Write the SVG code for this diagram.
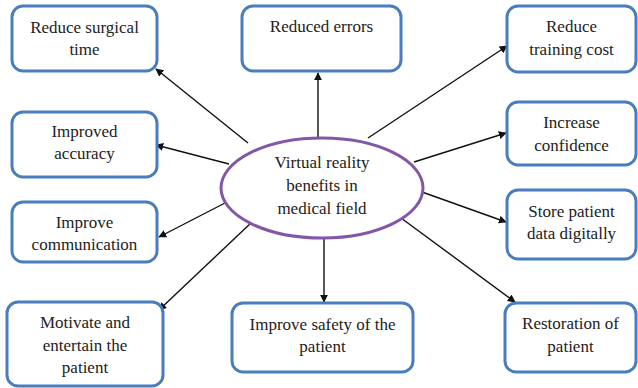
<svg xmlns="http://www.w3.org/2000/svg" width="638" height="388" viewBox="0 0 638 388">
  <style>
    .box { fill: #ffffff; stroke: #4a7dbd; stroke-width: 3; }
    .hub { fill: #ffffff; stroke: #8357a8; stroke-width: 3; }
    .lbl { font-family: 'Liberation Serif', 'Times New Roman', serif; font-size: 17px; fill: #222222; text-anchor: middle; }
    .link { stroke: #111111; stroke-width: 1.4; fill: none; marker-end: url(#arrow); }
  </style>
  <defs>
    <marker id="arrow" viewBox="0 0 10 10" refX="9" refY="5" markerWidth="8" markerHeight="8" markerUnits="userSpaceOnUse" orient="auto">
      <path d="M0,0 L10,5 L0,10 z" fill="#111111"/>
    </marker>
  </defs>
  <rect width="638" height="388" fill="#ffffff"/>

  <!-- connectors from the central ellipse to each benefit -->
  <g id="connectors">
    <line class="link" x1="248" y1="143" x2="156" y2="69"/>
    <line class="link" x1="229" y1="164" x2="156" y2="145"/>
    <line class="link" x1="318" y1="138" x2="318" y2="73"/>
    <line class="link" x1="368" y1="138" x2="507" y2="46"/>
    <line class="link" x1="414" y1="162" x2="506" y2="133"/>
    <line class="link" x1="422" y1="192" x2="506" y2="222"/>
    <line class="link" x1="401" y1="218" x2="515" y2="302"/>
    <line class="link" x1="324" y1="238" x2="324" y2="302"/>
    <line class="link" x1="252" y1="222" x2="159" y2="310"/>
    <line class="link" x1="225" y1="203" x2="159" y2="237"/>
  </g>

  <g id="hub">
    <ellipse class="hub" cx="322" cy="188" rx="101" ry="50"/>
    <text class="lbl" x="322" y="168">Virtual reality</text>
    <text class="lbl" x="322" y="191">benefits in</text>
    <text class="lbl" x="322" y="214">medical field</text>
  </g>

  <g id="reduce-surgical-time">
    <rect class="box" x="12" y="6" width="145" height="65" rx="11"/>
    <text class="lbl" x="84.5" y="33">Reduce surgical</text>
    <text class="lbl" x="84.5" y="55">time</text>
  </g>

  <g id="improved-accuracy">
    <rect class="box" x="12" y="112" width="145" height="65" rx="11"/>
    <text class="lbl" x="84.5" y="137">Improved</text>
    <text class="lbl" x="84.5" y="159">accuracy</text>
  </g>

  <g id="improve-communication">
    <rect class="box" x="12" y="202" width="145" height="60" rx="11"/>
    <text class="lbl" x="84.5" y="228">Improve</text>
    <text class="lbl" x="84.5" y="250">communication</text>
  </g>

  <g id="motivate-entertain">
    <rect class="box" x="7" y="302" width="156" height="84" rx="11"/>
    <text class="lbl" x="85" y="328">Motivate and</text>
    <text class="lbl" x="85" y="351">entertain the</text>
    <text class="lbl" x="85" y="373">patient</text>
  </g>

  <g id="reduced-errors">
    <rect class="box" x="242" y="6" width="159" height="65" rx="11"/>
    <text class="lbl" x="321.5" y="32">Reduced errors</text>
  </g>

  <g id="improve-safety">
    <rect class="box" x="232" y="303" width="181" height="69" rx="11"/>
    <text class="lbl" x="322.5" y="330">Improve safety of the</text>
    <text class="lbl" x="322.5" y="352">patient</text>
  </g>

  <g id="reduce-training-cost">
    <rect class="box" x="507" y="6" width="129" height="66" rx="11"/>
    <text class="lbl" x="571.5" y="32">Reduce</text>
    <text class="lbl" x="571.5" y="55">training cost</text>
  </g>

  <g id="increase-confidence">
    <rect class="box" x="507" y="102" width="129" height="63" rx="11"/>
    <text class="lbl" x="571.5" y="128">Increase</text>
    <text class="lbl" x="571.5" y="151">confidence</text>
  </g>

  <g id="store-patient-data">
    <rect class="box" x="507" y="190" width="129" height="69" rx="11"/>
    <text class="lbl" x="571.5" y="217">Store patient</text>
    <text class="lbl" x="571.5" y="239">data digitally</text>
  </g>

  <g id="restoration-of-patient">
    <rect class="box" x="505" y="303" width="131" height="69" rx="11"/>
    <text class="lbl" x="570.5" y="329">Restoration of</text>
    <text class="lbl" x="570.5" y="352">patient</text>
  </g>
</svg>
